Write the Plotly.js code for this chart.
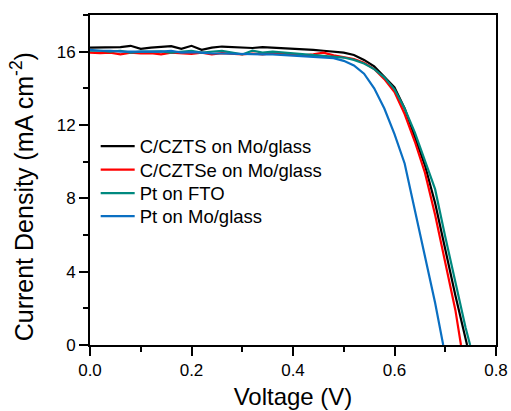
<!DOCTYPE html>
<html>
<head>
<meta charset="utf-8">
<script src="https://cdn.plot.ly/plotly-3.0.1.min.js"></script>
<style>html,body{margin:0;padding:0;background:#fff}#chart{width:511px;height:411px}</style>
</head>
<body>
<div id="chart"></div>
<script>
var seriesNames = ["C/CZTS on Mo/glass", "C/CZTSe on Mo/glass", "Pt on FTO", "Pt on Mo/glass"];
var seriesColors = ["#000000", "#ff0000", "#00897f", "#0a6fc2"];

var vBlack = [0,0.02,0.04,0.06,0.08,0.1,0.12,0.14,0.16,0.18,0.2,0.22,0.24,0.26,0.28,0.3,0.32,0.34,0.36,0.38,0.4,0.42,0.44,0.46,0.48,0.5,0.52,0.54,0.56,0.58,0.6,0.62,0.64,0.66,0.68,0.7,0.72,0.743];
var jBlack = [16.22,16.22,16.22,16.25,16.32,16.15,16.22,16.25,16.3,16.15,16.32,16.1,16.22,16.28,16.25,16.22,16.2,16.25,16.22,16.22,16.15,16.12,16.1,16.05,16.02,15.95,15.82,15.55,15.2,14.65,14.05,12.9,11.4,9.8,7.75,5.2,2.7,0];

var vRed = [0,0.02,0.04,0.06,0.08,0.1,0.12,0.14,0.16,0.18,0.2,0.22,0.24,0.26,0.28,0.3,0.32,0.34,0.36,0.38,0.4,0.42,0.44,0.46,0.48,0.5,0.52,0.54,0.56,0.58,0.6,0.62,0.64,0.66,0.68,0.7,0.72,0.731];
var jRed = [15.95,15.92,15.95,15.85,15.95,15.9,15.92,15.85,15.95,15.9,15.88,15.95,15.85,15.92,15.88,15.85,15.9,15.85,15.92,15.88,15.85,15.8,15.85,15.95,15.8,15.72,15.6,15.4,15.05,14.5,13.8,12.6,11.1,9.4,7.1,4.5,1.9,0];

var vTeal = [0,0.02,0.04,0.06,0.08,0.1,0.12,0.14,0.16,0.18,0.2,0.22,0.24,0.26,0.28,0.3,0.32,0.34,0.36,0.38,0.4,0.42,0.44,0.46,0.48,0.5,0.52,0.54,0.56,0.58,0.6,0.62,0.64,0.66,0.68,0.7,0.72,0.74,0.749];
var jTeal = [16.05,16.05,16.0,16.05,15.95,16.0,16.0,16.02,15.95,16.0,16.05,15.95,16.0,16.05,15.95,15.85,16.05,15.95,16.0,15.95,15.9,15.85,15.8,15.75,15.72,15.68,15.55,15.35,15.05,14.6,13.95,12.9,11.6,10.1,8.5,5.9,3.4,0.95,0];

var vBlue = [0,0.02,0.04,0.06,0.08,0.1,0.12,0.14,0.16,0.18,0.2,0.22,0.24,0.26,0.28,0.3,0.32,0.34,0.36,0.38,0.4,0.42,0.44,0.46,0.48,0.5,0.52,0.54,0.56,0.58,0.6,0.62,0.64,0.66,0.68,0.696];
var jBlue = [16.1,16.05,16.05,16.0,16.0,16.02,16.0,16.0,16.05,15.95,15.98,15.95,15.9,15.9,15.88,15.9,15.88,15.85,15.85,15.82,15.8,15.78,15.75,15.7,15.65,15.5,15.25,14.8,14.0,12.9,11.5,9.9,7.4,4.9,2.3,0];

var xTickVals = [0, 0.2, 0.4, 0.6, 0.8];
var xTickText = ["0.0", "0.2", "0.4", "0.6", "0.8"];
var yTickVals = [0, 4, 8, 12, 16];
var yTickText = ["0", "4", "8", "12", "16"];
var xTitle = 'Voltage (V)';
var yTitle = 'Current Density (mA cm<sup>-2</sup>)';

var xs = [vBlack, vRed, vTeal, vBlue];
var ys = [jBlack, jRed, jTeal, jBlue];
var legendIds = ['legend', 'legend2', 'legend3', 'legend4'];
var legendRowY = [0.601, 0.530, 0.459, 0.389];
var data = [];
for (var i = 0; i < 4; i++) {
  data.push({x: xs[i], y: ys[i], type: 'scatter', mode: 'lines', name: seriesNames[i],
    legend: legendIds[i], line: {color: seriesColors[i], width: 2.2}});
}
var font = "Arial, 'Liberation Sans', sans-serif";
var layout = {
  width: 511, height: 411,
  margin: {l: 90, r: 15, t: 15, b: 66},
  paper_bgcolor: '#fff', plot_bgcolor: '#fff',
  showlegend: true,
  font: {family: font, color: '#000'},
  xaxis: {range: [0, 0.8], tickvals: xTickVals, ticktext: xTickText, ticks: 'outside', ticklen: 9, tickwidth: 2,
    tickcolor: '#000', showline: true, linecolor: '#000', linewidth: 2, mirror: true, showgrid: false, zeroline: false,
    tickfont: {size: 17}, minor: {dtick: 0.1, ticks: 'outside', ticklen: 5, tickwidth: 2, tickcolor: '#000', showgrid: false},
    title: {text: xTitle, font: {size: 24}, standoff: 9}},
  yaxis: {range: [0, 18], tickvals: yTickVals, ticktext: yTickText, ticks: 'outside', ticklen: 9, tickwidth: 2,
    tickcolor: '#000', showline: true, linecolor: '#000', linewidth: 2, mirror: true, showgrid: false, zeroline: false,
    tickfont: {size: 17}, minor: {dtick: 2, ticks: 'outside', ticklen: 5, tickwidth: 2, tickcolor: '#000', showgrid: false}},
  annotations: [{text: yTitle, xref: 'paper', yref: 'paper', x: -0.168, y: 0.45, xanchor: 'center', yanchor: 'middle',
    textangle: -90, showarrow: false, font: {size: 25, family: font, color: '#000'}}]
};
for (var k = 0; k < 4; k++) {
  layout[legendIds[k]] = {x: 0.014, y: legendRowY[k], xanchor: 'left', yanchor: 'middle',
    bgcolor: 'rgba(0,0,0,0)', itemwidth: 34, font: {size: 18.5, family: font, color: '#000'}};
}
Plotly.newPlot('chart', data, layout, {displayModeBar: false, staticPlot: true});
</script>
</body>
</html>
